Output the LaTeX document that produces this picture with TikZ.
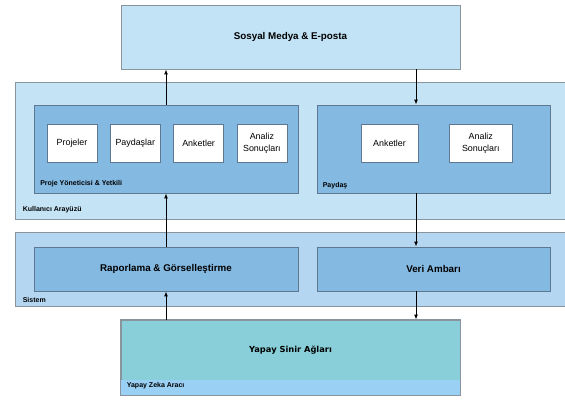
\documentclass[tikz,border=0pt]{standalone}
\usepackage{fontspec}
\setmainfont{Liberation Sans}
\newfontfamily\dejavusans{DejaVu Sans}
\usepackage{tikz}
\usetikzlibrary{positioning,calc,arrows.meta}

\definecolor{socialblue}{HTML}{C2E3F6}
\definecolor{uiblue}{HTML}{C4E3F5}
\definecolor{sysblue}{HTML}{B4D6F0}
\definecolor{panelblue}{HTML}{84B9E2}
\definecolor{aiteal}{HTML}{89CFD9}
\definecolor{aistrip}{HTML}{9AD0F3}
\definecolor{edgegray}{HTML}{8A949D}
\definecolor{edgedark}{HTML}{5E7891}

\tikzset{
  layerbox/.style={draw=edgegray, line width=0.8pt, inner sep=0pt},
  panelbox/.style={draw=edgedark, fill=panelblue, line width=0.8pt, inner sep=0pt,
    font=\fontsize{9.8}{12}\selectfont\bfseries},
  itembox/.style={draw=edgedark, fill=white, line width=0.8pt, minimum height=38pt,
    inner sep=0pt, align=center, font=\fontsize{8.9}{11.5}\selectfont},
  tagtext/.style={font=\fontsize{7}{8}\selectfont\bfseries, inner sep=0pt, anchor=base west},
  flow/.style={-{Latex[length=5pt,width=4pt]}, line width=1pt}
}

\begin{document}
\begin{tikzpicture}[x=1pt,y=1pt]
    \useasboundingbox (0,0) rectangle (565,399);
    \clip (0,0) rectangle (565,399);

    % Sosyal medya
    \node[layerbox, fill=socialblue, minimum width=339pt, minimum height=64pt,
          font=\fontsize{9.8}{12}\selectfont\bfseries] (social) at (290.5,362) {Sosyal Medya \& E-posta};

    % Kullanici arayuzu
    \node[layerbox, fill=uiblue, minimum width=556pt, minimum height=137pt] (ui) at (293,248.5) {};
    \node[tagtext] (uitag) at ($(ui.south west)+(8,8)$) {Kullanıcı Arayüzü};

    \node[panelbox, minimum width=264pt, minimum height=88pt] (manager) at (166,250) {};
    \node[tagtext] (managertag) at ($(manager.south west)+(6.5,7.5)$) {Proje Yöneticisi \& Yetkili};
    \node[itembox, minimum width=50pt] (projects) at (72,256) {Projeler};
    \node[itembox, minimum width=50pt, right=12.5pt of projects] (holders) {Paydaşlar};
    \node[itembox, minimum width=50pt, right=12.5pt of holders] (surveys) {Anketler};
    \node[itembox, minimum width=50pt, right=12.5pt of surveys] (results) {Analiz\\Sonuçları};

    \node[panelbox, minimum width=233pt, minimum height=88pt] (holder) at (433.5,250) {};
    \node[tagtext] (holdertag) at ($(holder.south west)+(6,5.5)$) {Paydaş};
    \node[itembox, minimum width=57pt] (surveys2) at (389.5,256) {Anketler};
    \node[itembox, minimum width=63pt, right=30.5pt of surveys2] (results2) {Analiz\\Sonuçları};

    % Sistem
    \node[layerbox, fill=sysblue, minimum width=556pt, minimum height=74pt] (system) at (293,130) {};
    \node[tagtext] (systemtag) at ($(system.south west)+(8,4)$) {Sistem};
    \node[panelbox, minimum width=264pt, minimum height=44pt] (report) at (166,130) {Raporlama \& Görselleştirme};
    \node[panelbox, minimum width=233pt, minimum height=44pt] (store) at (433.5,130) {Veri Ambarı};

    % Yapay zeka araci
    \node[layerbox, fill=aiteal, minimum width=339pt, minimum height=75pt] (ai) at (290.5,41.5) {};
    \fill[aistrip] ($(ai.south west)+(0.4,0.4)$) rectangle ($(ai.south east)+(-0.4,15)$);
    \draw[edgegray, line width=0.8pt] (ai.south west) rectangle (ai.north east);
    \node[font=\dejavusans\fontsize{8.3}{10}\selectfont\bfseries] (aititle) at ($(ai.center)+(0,7.5)$) {Yapay Sinir Ağları};
    \node[tagtext] (aitag) at ($(ai.south west)+(6,7.5)$) {Yapay Zeka Aracı};

    % akislar
    \coordinate (rline) at (416,0);
    \draw[flow] (manager.north) -- (manager.north |- social.south);
    \draw[flow] (report.north) -- (manager.south);
    \draw[flow] (report.south |- ai.north) -- (report.south);
    \draw[flow] (social.south -| rline) -- (holder.north -| rline);
    \draw[flow] (holder.south -| rline) -- (store.north -| rline);
    \draw[flow] (store.south -| rline) -- (ai.north -| rline);
\end{tikzpicture}
\end{document}
